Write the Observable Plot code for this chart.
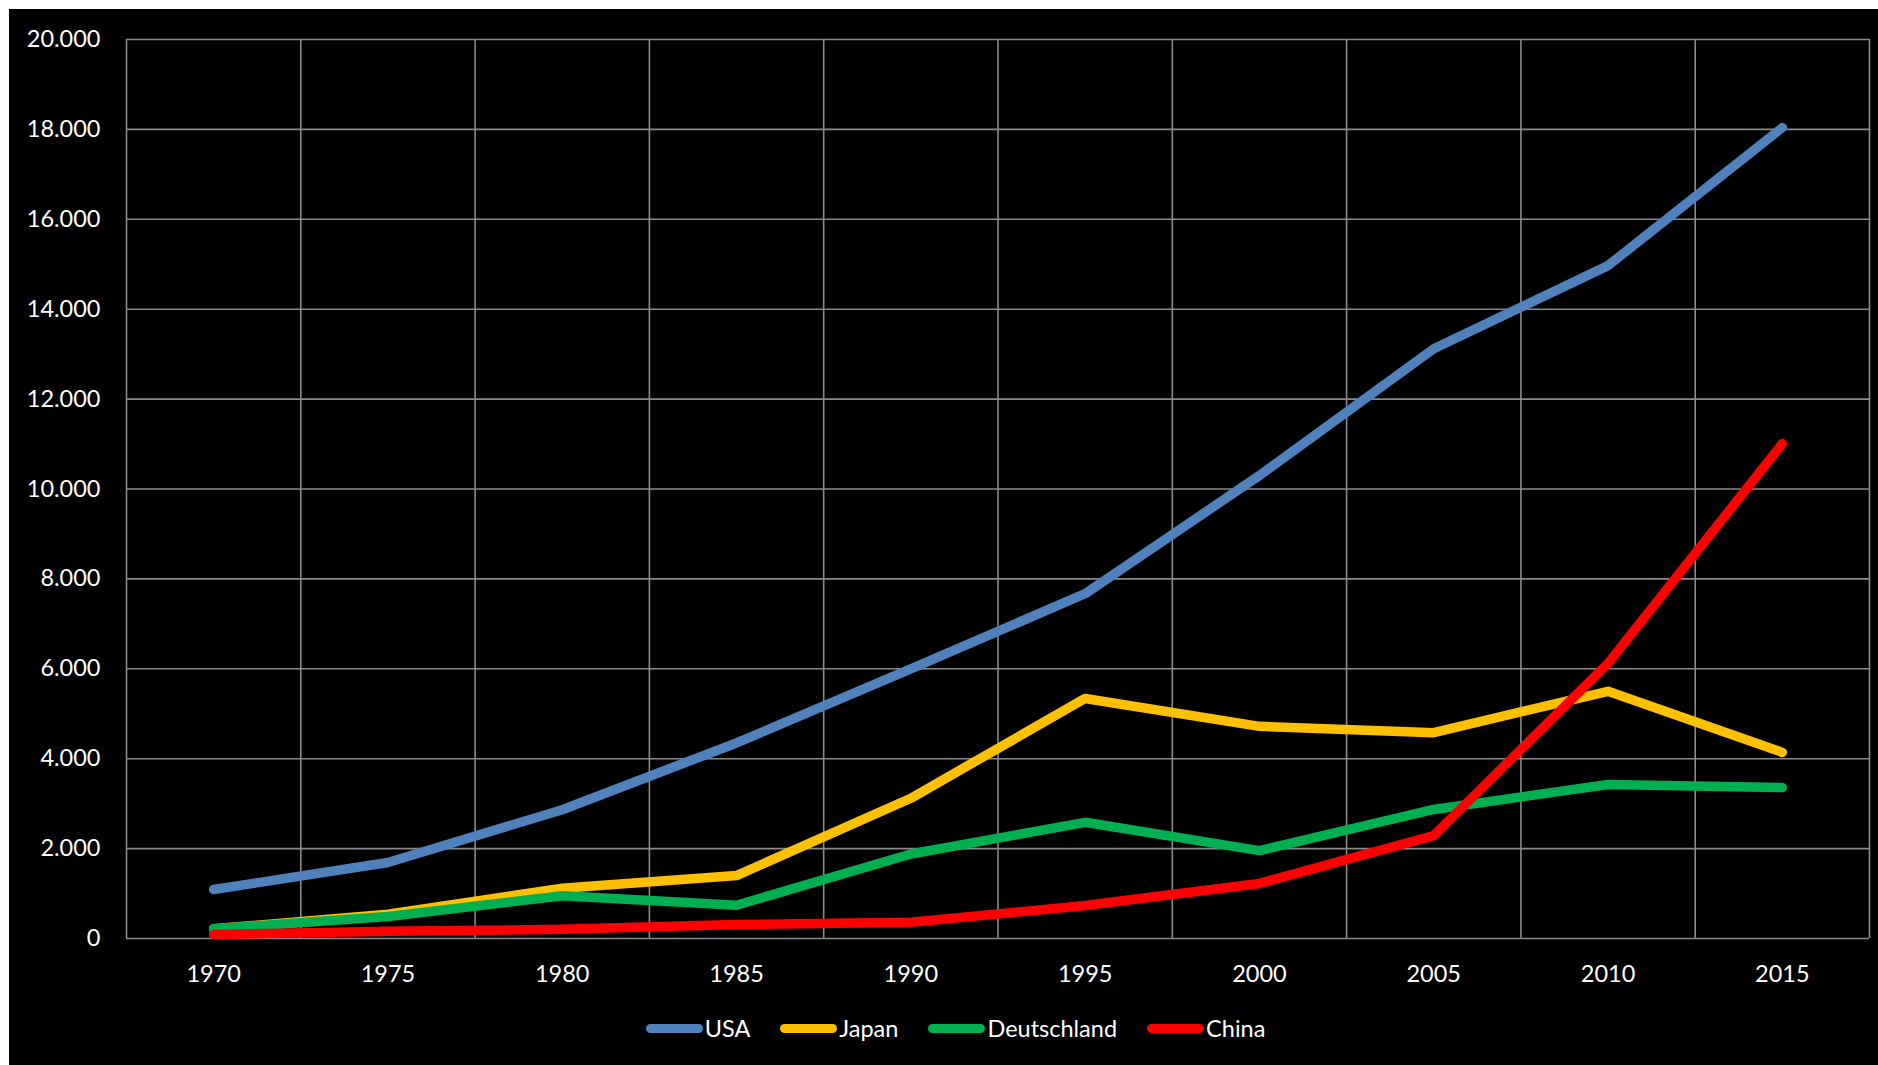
<!DOCTYPE html>
<html>
<head>
<meta charset="utf-8">
<script src="https://cdn.jsdelivr.net/npm/d3@7"></script>
<script src="https://cdn.jsdelivr.net/npm/@observablehq/plot@0.6"></script>
<style>
  html, body { margin: 0; padding: 0; background: #ffffff; }
  #frame { position: absolute; left: 9px; top: 9px; width: 1869px; height: 1056px; background: #000000; overflow: hidden; }
  #chart { position: absolute; left: 0; top: 0; }
  #legend { position: absolute; left: 0; top: 1005px; width: 100%; height: 28px; display: flex; justify-content: center; align-items: center; font-family: Lato, sans-serif; font-size: 23.5px; color: #ffffff; padding-left: 24px; box-sizing: border-box; }
  .item { display: flex; align-items: center; margin: 0 15px; }
  .sw { width: 57px; height: 9px; border-radius: 5px; margin-right: 2px; }
</style>
</head>
<body>
<div id="frame">
  <div id="chart"></div>
  <div id="legend"></div>
</div>
<script>
const years = [1970, 1975, 1980, 1985, 1990, 1995, 2000, 2005, 2010, 2015];
const seriesNames = ["USA", "Japan", "Deutschland", "China"];
const seriesColors = ["#4F81BD", "#FFC000", "#00B050", "#FF0000"];
const usa = [1090, 1690, 2865, 4350, 6000, 7670, 10300, 13120, 14970, 18040];
const japan = [215, 540, 1120, 1400, 3120, 5340, 4720, 4580, 5500, 4140];
const deutschland = [215, 490, 950, 740, 1880, 2585, 1955, 2870, 3425, 3360];
const china = [90, 160, 205, 310, 360, 735, 1225, 2290, 6120, 11010];
const yTicks = [0, 2000, 4000, 6000, 8000, 10000, 12000, 14000, 16000, 18000, 20000];

const seriesValues = [usa, japan, deutschland, china];
const rows = [];
seriesNames.forEach((name, s) => {
  years.forEach((yr, i) => rows.push({year: yr, value: seriesValues[s][i], series: name}));
});

const half = (years[1] - years[0]) / 2;
const boundaries = years.map(y => y - half).concat([years[years.length - 1] + half]);
const fmt = d => d === 0 ? "0" : d3.format(",")(d).replace(/,/g, ".");
const gridColor = "#8a8a8a";

const chart = Plot.plot({
  width: 1869,
  height: 990,
  marginLeft: 117,
  marginRight: 9,
  marginTop: 30,
  marginBottom: 61,
  style: {background: "#000000", color: "#ffffff", fontFamily: "Lato, sans-serif", fontSize: "23.5px"},
  x: {type: "linear", domain: [boundaries[0], boundaries[boundaries.length - 1]]},
  y: {domain: [0, 20000]},
  color: {domain: seriesNames, range: seriesColors},
  marks: [
    Plot.ruleY(yTicks, {stroke: gridColor, strokeWidth: 1.6}),
    Plot.ruleX(boundaries, {stroke: gridColor, strokeWidth: 1.6}),
    Plot.axisY({ticks: yTicks, tickFormat: fmt, tickSize: 0, tickPadding: 26, label: null, fill: "#ffffff", fontSize: 23.5}),
    Plot.axisX({ticks: years, tickFormat: d => String(d), tickSize: 0, tickPadding: 27, label: null, fill: "#ffffff", fontSize: 23.5}),
    Plot.line(rows, {x: "year", y: "value", z: "series", stroke: "series", strokeWidth: 9.5, strokeLinecap: "round", strokeLinejoin: "round"})
  ]
});
document.getElementById("chart").appendChild(chart);

const legend = document.getElementById("legend");
seriesNames.forEach((name, i) => {
  const item = document.createElement("div");
  item.className = "item";
  const sw = document.createElement("div");
  sw.className = "sw";
  sw.style.background = seriesColors[i];
  const label = document.createElement("span");
  label.textContent = name;
  item.appendChild(sw);
  item.appendChild(label);
  legend.appendChild(item);
});
</script>
</body>
</html>
